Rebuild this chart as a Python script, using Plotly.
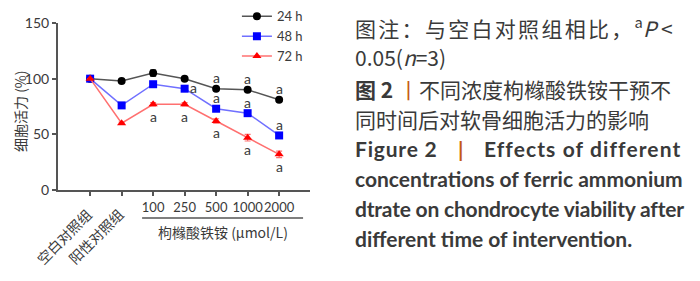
import plotly.graph_objects as go

categories = ["空白对照组", "阳性对照组", "100", "250", "500", "1000", "2000"]
series_names = ["24 h", "48 h", "72 h"]
v24 = [100, 98, 105, 100, 91, 90, 81]
e24 = [0, 1, 3, 1.5, 1.5, 1, 1.5]
v48 = [100, 76, 95, 91, 73, 69, 49]
e48 = [0, 1.5, 2, 1.5, 2, 1.5, 1.5]
v72 = [100, 60, 77, 77, 62, 47, 32]
e72 = [0, 1, 1.5, 1.5, 2, 3, 3]
# significance marks: category indices per series
sig24 = [4, 5, 6]
sig48 = [3, 4, 5, 6]
sig72 = [2, 3, 4, 5, 6]
y_ticks = [0, 50, 100, 150]

idx = list(range(len(categories)))
TXT = "#3a3a3a"
AX = "#555555"

fig = go.Figure()
styles = [
    (v24, e24, series_names[0], "#000000", "#555555", "circle", 8),
    (v48, e48, series_names[1], "#0000ff", "#7070ff", "square", 8),
    (v72, e72, series_names[2], "#ff0000", "#ff7070", "triangle-up", 8),
]
for vals, errs, name, mc, lc, sym, ms in styles:
    fig.add_trace(go.Scatter(
        x=idx, y=vals, name=name, mode="lines+markers",
        line=dict(color=lc, width=1.5),
        marker=dict(color=mc, symbol=sym, size=ms),
        error_y=dict(type="data", array=errs, visible=True, color=lc, thickness=1.2, width=3),
    ))

ann = []
def a_mark(i, val, dx, dy):
    ann.append(dict(x=i, y=val, xref="x", yref="y", text="a", showarrow=False,
                    xshift=dx, yshift=dy, font=dict(family="Lato", size=14, color=TXT)))
for i in sig24:
    a_mark(i, v24[i], 0, 11)
for i in sig48:
    if i == 3:
        a_mark(i, v48[i], 9, 1)
    else:
        a_mark(i, v48[i], 0, 11)
for i in sig72:
    a_mark(i, v72[i], 0, -12)

# rotated Chinese category labels
for i in (0, 1):
    ann.append(dict(x=i, y=-0.07, xref="x", yref="paper", text=categories[i], showarrow=False,
                    textangle=-45, xanchor="right", yanchor="top", xshift=9,
                    font=dict(family="Noto Sans CJK SC", size=14, color=TXT)))
# group label
ann.append(dict(x=(1.65 + 6.76) / 2, y=-0.25, xref="x", yref="paper", text="枸橼酸铁铵 (μmol/L)",
                showarrow=False, yanchor="middle",
                font=dict(family="Noto Sans CJK SC", size=14, color=TXT)))
# y-axis title
ann.append(dict(x=(20 - 58) / 252, y=(190 - 111) / 167, xref="paper", yref="paper",
                text="细胞活力 (%)", textangle=-90, showarrow=False,
                xanchor="center", yanchor="middle",
                font=dict(family="Noto Sans CJK SC", size=14, color=TXT)))

# caption text block
def py(ypx):
    return (190 - ypx) / 167
X0 = (353 - 58) / 252
cap_cn = dict(family="Noto Sans CJK SC", size=21, color=TXT)
cap_en = dict(family="Lato", size=21, color=TXT)
NB = "&nbsp;"
lines = [
    (27, "<span style='letter-spacing:2.3px'>图注：与空白对照组相比，</span><sup>a</sup><i>P</i> &lt;", cap_cn),
    (57, "0.05(<i>n</i>=3)", cap_cn),
    (89, "<b>图 2</b> <span style='color:#c55a11'>丨</span>不同浓度枸橼酸铁铵干预不", cap_cn),
    (119, "同时间后对软骨细胞活力的影响", cap_cn),
    (148, "<b><span style='letter-spacing:0.8px'>Figure 2</span>" + NB * 4 +
     "<span style='color:#c55a11'>|</span>" + NB * 4 +
     "<span style='letter-spacing:1.1px'>Effects" + NB + "of" + NB + "different</span></b>", cap_en),
    (178, "<b>concentrations of ferric ammonium</b>", cap_en),
    (208, "<b><span style='letter-spacing:-0.2px'>dtrate on chondrocyte viability after</span></b>", cap_en),
    (238, "<b>different time of intervention.</b>", cap_en),
]
for ypx, t, f in lines:
    ann.append(dict(x=X0, y=py(ypx), xref="paper", yref="paper", text=t, showarrow=False,
                    xanchor="left", yanchor="middle", font=f))

fig.update_layout(
    width=700, height=281,
    margin=dict(l=58, r=390, t=23, b=91, autoexpand=False),
    paper_bgcolor="white", plot_bgcolor="white",
    showlegend=True,
    legend=dict(x=0.71, y=1.13, xanchor="left", yanchor="top", itemwidth=30,
                font=dict(family="Lato", size=13, color=TXT), bgcolor="rgba(0,0,0,0)",
                tracegroupgap=0),
    annotations=ann,
    shapes=[dict(type="line", xref="x", yref="paper", x0=1.65, x1=6.76, y0=-0.168, y1=-0.168,
                 line=dict(color=AX, width=1.5))],
    font=dict(family="Lato", color=TXT),
)
fig.update_xaxes(range=[-1.02, 6.98], tickvals=idx, ticktext=["", ""] + categories[2:],
                 showline=True, linecolor=AX, linewidth=2, ticks="outside", ticklen=4,
                 tickcolor=AX, tickwidth=1.5, showgrid=False, zeroline=False, tickangle=0,
                 automargin=False,
                 tickfont=dict(family="Lato", size=13, color=TXT))
fig.update_yaxes(range=[0, 150], tickvals=y_ticks, showline=True, linecolor=AX, linewidth=2,
                 ticks="outside", ticklen=4, tickcolor=AX, tickwidth=1.5, showgrid=False,
                 zeroline=False, automargin=False, tickfont=dict(family="Lato", size=14, color=TXT))
fig.write_html("out.html", post_script="document.body.style.margin='0';",
               config={"displayModeBar": False})
